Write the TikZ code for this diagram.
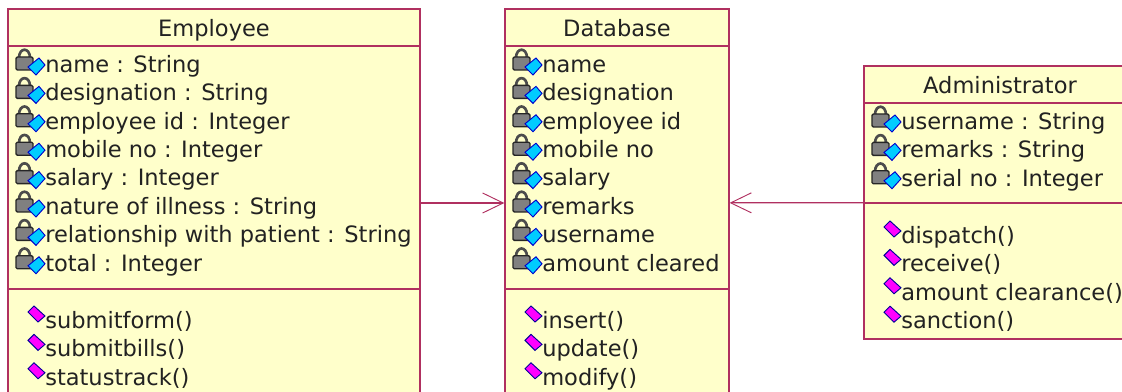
\documentclass[tikz,border=0pt]{standalone}
\usepackage{fontspec}
\setmainfont{DejaVu Sans}
\usepackage{tikz}
\usetikzlibrary{arrows.meta}
\definecolor{umlline}{HTML}{B03060}
\definecolor{umlfill}{HTML}{FFFFCB}
\definecolor{umltext}{HTML}{222222}
\definecolor{attrblue}{HTML}{00CCFF}
\definecolor{opmagenta}{HTML}{FF00FF}
\begin{document}
\begin{tikzpicture}[
      x=0.75pt, y=-0.75pt,
      every node/.style={font=\fontsize{16.9}{20}\selectfont, text=umltext, text height=16pt, text depth=3.5pt, inner sep=0pt},
      classbox/.style={rectangle, draw=umlline, fill=umlfill, line width=1pt, inner sep=0pt},
      member/.style={anchor=west},
      divider/.style={draw=umlline, line width=1pt},
      assoc/.style={draw=umlline, line width=0.9pt, -{Straight Barb[length=15.5pt,width=15pt,line width=0.7pt]}},
      attricon/.pic={
        \draw[black!70, line width=2pt] (-26,-6) .. controls (-26,-17) and (-15,-17) .. (-15,-6);
        \draw[black!85, fill=black!50, line width=1pt, rounded corners=1pt] (-29,-7) rectangle (-12,6);
        \draw[blue!80!black, fill=attrblue, line width=0.7pt] (-17,3) -- (-6,-6) -- (0,1) -- (-9,11) -- cycle;
      },
      opicon/.pic={
        \draw[blue!60!black, fill=opmagenta, line width=0.7pt] (-17,-8) -- (-11,-14) -- (0,-4) -- (-7,2) -- cycle;
      }
    ]
    \useasboundingbox (0,0) rectangle (1122,392);
    \clip (0,0) rectangle (1122,392);

    % Class boxes
    \node[classbox, minimum width=309pt, minimum height=291pt] (employee) at (214,203) {};
    \node[classbox, minimum width=168pt, minimum height=291pt] (database) at (617,203) {};
    \node[classbox, minimum width=203.25pt, minimum height=204.75pt] (admin) at (999.5,202.5) {};

    % Titles
    \node (employeetitle) at (214,28) {Employee};
    \node (databasetitle) at (617,28) {Database};
    \node (admintitle) at (1000,85) {Administrator};

    % Compartment lines
    \draw[divider] (8,46) -- (420,46);
    \draw[divider] (8,289) -- (420,289);
    \draw[divider] (505,46) -- (729,46);
    \draw[divider] (505,289) -- (729,289);
    \draw[divider] (864,103) -- (1135,103);
    \draw[divider] (864,203) -- (1135,203);

    % Employee members
    \foreach \attr [count=\i] in {name : String, designation : String, employee id : Integer, mobile no : Integer, salary : Integer, nature of illness : String, relationship with patient : String, total : Integer} {
      \node[member] (empattr\i) at (45,{35.6+28.4*\i}) {\attr};
      \pic at (empattr\i.west) {attricon};
    }
    \foreach \op [count=\i] in {submitform(), submitbills(), statustrack()} {
      \node[member] (empop\i) at (45,{291.6+28.4*\i}) {\op};
      \pic at (empop\i.west) {opicon};
    }

    % Database members
    \foreach \attr [count=\i] in {name, designation, employee id, mobile no, salary, remarks, username, amount cleared} {
      \node[member] (dbattr\i) at (542,{35.6+28.4*\i}) {\attr};
      \pic at (dbattr\i.west) {attricon};
    }
    \foreach \op [count=\i] in {insert(), update(), modify()} {
      \node[member] (dbop\i) at (542,{291.6+28.4*\i}) {\op};
      \pic at (dbop\i.west) {opicon};
    }

    % Administrator members
    \foreach \attr [count=\i] in {username : String, remarks : String, serial no : Integer} {
      \node[member] (adminattr\i) at (901,{92.6+28.4*\i}) {\attr};
      \pic at (adminattr\i.west) {attricon};
    }
    \foreach \op [count=\i] in {dispatch(), receive(), amount clearance(), sanction()} {
      \node[member] (adminop\i) at (901,{206.6+28.4*\i}) {\op};
      \pic at (adminop\i.west) {opicon};
    }

    % Associations
    \draw[assoc] (employee) -- (database);
    \draw[assoc] (admin) -- (database);
\end{tikzpicture}
\end{document}
